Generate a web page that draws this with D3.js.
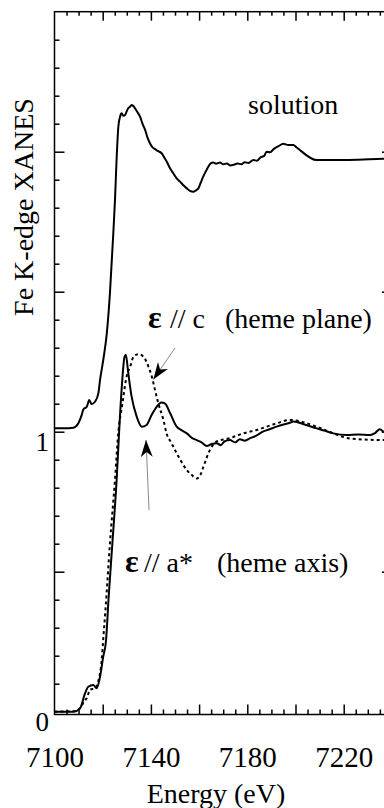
<!DOCTYPE html>
<html><head><meta charset="utf-8">
<script src="https://cdn.jsdelivr.net/npm/d3@7"></script>
<style>body{margin:0;background:#fff} svg{display:block}</style>
</head><body><svg id="c" width="384" height="808"></svg>
<script>
// ---------- data ----------
const solutionEnergy = [7100,7104,7107.8,7109.9,7111.3,7112.0,7113.4,7114.4,7115.4,7116.8,7118.2,7118.9,7120.3,7121.7,7123.0,7124.4,7125.1,7125.8,7126.5,7127.2,7127.9,7128.6,7129.3,7130.0,7130.6,7131.3,7132.0,7132.7,7133.4,7134.5,7135.5,7136.5,7137.6,7138.6,7139.6,7140.6,7141.7,7143,7144.5,7145.5,7146.6,7148,7149.3,7150.7,7152.1,7153.5,7154.9,7156.2,7157.6,7158.7,7159.7,7160.7,7161.7,7162.8,7163.8,7164.8,7165.9,7167,7168.7,7170,7171.5,7173,7174.2,7176,7177.5,7179,7180.5,7182.5,7184,7185.5,7187,7188,7189.5,7191,7193,7194.9,7197,7199.1,7200.5,7208.8,7215.7,7236.4,7240];
const solutionXanes = [1.012,1.012,1.014,1.03,1.06,1.08,1.089,1.113,1.099,1.107,1.137,1.185,1.26,1.351,1.494,1.709,1.828,1.98,2.09,2.125,2.137,2.128,2.131,2.145,2.155,2.16,2.167,2.163,2.155,2.14,2.125,2.10,2.078,2.05,2.03,2.016,2.009,2.002,1.994,1.98,1.964,1.94,1.923,1.905,1.893,1.88,1.869,1.86,1.857,1.862,1.869,1.89,1.911,1.93,1.946,1.958,1.961,1.957,1.961,1.955,1.958,1.951,1.953,1.958,1.955,1.962,1.96,1.97,1.968,1.98,1.985,2.0,1.998,2.01,2.02,2.028,2.024,2.024,2.015,1.97,1.97,1.975,1.976];

const axisEnergy = [7100,7108,7110.6,7112.7,7114.0,7116.1,7117.5,7118.9,7120.2,7121.4,7122.4,7124,7125.8,7127,7128,7129.0,7129.6,7130.6,7132.0,7134.1,7136.2,7138.2,7140.3,7142.4,7144.4,7145.9,7148.0,7150.7,7152.8,7154.9,7157,7159.0,7161,7163.2,7165,7167.3,7169,7170.5,7172.8,7175,7176.9,7179,7181,7183.5,7186.5,7189,7192.1,7195,7197.7,7199.1,7204,7208.8,7212,7215.7,7221.3,7226,7231,7233,7235.0,7236.7,7240];
const axisXanes = [0,0,0.012,0.066,0.089,0.095,0.084,0.125,0.196,0.256,0.40,0.60,0.83,1.03,1.17,1.265,1.275,1.21,1.125,1.054,1.018,1.024,1.06,1.089,1.104,1.10,1.066,1.018,1.005,0.994,0.978,0.970,0.962,0.949,0.955,0.959,0.952,0.965,0.970,0.962,0.973,0.968,0.976,0.985,1.0,1.008,1.018,1.026,1.032,1.036,1.025,1.012,1.004,0.994,0.988,0.99,0.988,0.995,1.009,1.0,1.0];

const planeEnergy = [7100,7108,7110.6,7112.5,7113.4,7114.7,7116.8,7118.2,7119.6,7120.2,7121.2,7123,7125.1,7126.5,7128,7130,7131.4,7132.8,7134.8,7136.9,7139,7140.4,7141.7,7143.1,7145.2,7146.5,7148.5,7150.7,7154.9,7157,7159,7160.5,7161.8,7164.5,7167.3,7172.8,7178.3,7183.9,7192.2,7197.7,7208.8,7215.7,7222.6,7236.7,7240];
const planeXanes = [0,0.002,0.012,0.04,0.048,0.078,0.084,0.11,0.185,0.256,0.37,0.60,0.828,1.0,1.09,1.20,1.232,1.268,1.277,1.268,1.232,1.196,1.149,1.101,1.042,0.994,0.96,0.923,0.863,0.845,0.833,0.845,0.875,0.935,0.965,0.977,0.994,1.006,1.030,1.042,1.018,0.994,0.976,0.970,0.970];

const xTickLabels = [7100,7140,7180,7220];
const yTickLabels = [0,1];
const xLabel = "Energy (eV)";
const yLabel = "Fe K-edge XANES";

// ---------- layout ----------
const svg = d3.select("#c");
const L = 54.5, R = 391.9, T = 11.7, B = 714.5;
const FONT = "'Liberation Serif', 'Times New Roman', serif";
const x = d3.scaleLinear().domain([7100, 7240]).range([L, R]);
const y = d3.scaleLinear().domain([-0.01, 2.5]).range([B, T]);

const xMinor = d3.range(7105, 7240, 5).filter(v => v % 20 !== 0);
const xMajor = d3.range(7120, 7240, 20);
const yMinor = d3.range(1, 25).map(i => i / 10).filter(v => Math.abs(v * 2 - Math.round(v * 2)) > 1e-6);
const yMajor = [0.5, 1, 1.5, 2];

function tickAxis(axisFn, scale, values, size, transform) {
  const g = svg.append("g").attr("transform", transform)
    .call(axisFn(scale).tickValues(values).tickSize(-size).tickFormat(""));
  g.select(".domain").remove();
  g.selectAll("line").attr("stroke", "#000").attr("stroke-width", 1.5);
}
tickAxis(d3.axisBottom, x, xMinor, 5, `translate(0,${B})`);
tickAxis(d3.axisBottom, x, xMajor, 10, `translate(0,${B})`);
tickAxis(d3.axisTop, x, xMinor, 4, `translate(0,${T})`);
tickAxis(d3.axisTop, x, xMajor, 9, `translate(0,${T})`);
tickAxis(d3.axisLeft, y, yMinor, 5, `translate(${L},0)`);
tickAxis(d3.axisLeft, y, yMajor, 10, `translate(${L},0)`);
tickAxis(d3.axisRight, y, yMinor, 5, `translate(${R},0)`);
tickAxis(d3.axisRight, y, yMajor, 10, `translate(${R},0)`);

// frame
svg.append("rect").attr("x", L).attr("y", T).attr("width", R - L).attr("height", B - T)
  .attr("fill", "none").attr("stroke", "#000").attr("stroke-width", 1.5);

// tick labels
const gx = svg.append("g").attr("transform", `translate(0,${B})`)
  .call(d3.axisBottom(x).tickValues(xTickLabels).tickSize(0).tickPadding(31.9).tickFormat(d3.format("d")));
gx.select(".domain").remove();
gx.selectAll("text").attr("font-family", FONT).attr("font-size", 29).attr("fill", "#000");

const gy = svg.append("g").attr("transform", `translate(${L},0)`)
  .call(d3.axisLeft(y).tickValues(yTickLabels).tickSize(0).tickPadding(5.5).tickFormat(d3.format("d")));
gy.select(".domain").remove();
gy.selectAll("text").attr("font-family", FONT).attr("font-size", 27).attr("fill", "#000").attr("dy", "0.7em");

// axis titles
svg.append("text").attr("x", 216).attr("y", 803).attr("text-anchor", "middle")
  .attr("font-family", FONT).attr("font-size", 28).text(xLabel);
svg.append("text").attr("transform", "translate(33,207) rotate(-90)").attr("text-anchor", "middle")
  .attr("font-family", FONT).attr("font-size", 28).text(yLabel);

// curves
const line = d3.line().x(d => x(d[0])).y(d => y(d[1])).curve(d3.curveMonotoneX);
const zip = (a, b) => a.map((v, i) => [v, b[i]]);
svg.append("path").attr("d", line(zip(planeEnergy, planeXanes)))
  .attr("fill", "none").attr("stroke", "#000").attr("stroke-width", 2).attr("stroke-dasharray", "3,3");
svg.append("path").attr("d", line(zip(axisEnergy, axisXanes)))
  .attr("fill", "none").attr("stroke", "#000").attr("stroke-width", 2);
svg.append("path").attr("d", line(zip(solutionEnergy, solutionXanes)))
  .attr("fill", "none").attr("stroke", "#000").attr("stroke-width", 2);

// annotations
svg.append("text").attr("x", 248).attr("y", 114).attr("font-family", FONT).attr("font-size", 28).text("solution");

function label(x0, yb, rest1, x1, rest2, x2) {
  svg.append("text").attr("x", x0).attr("y", yb).attr("font-family", FONT).attr("font-size", 32)
    .attr("font-weight", "bold").text("ε");
  svg.append("text").attr("x", x1).attr("y", yb).attr("font-family", FONT).attr("font-size", 28).text(rest1);
  svg.append("text").attr("x", x2).attr("y", yb).attr("font-family", FONT).attr("font-size", 28).text(rest2);
}
label(148, 328, "// c", 170, "(heme plane)", 225);
label(125, 572, "// a*", 144, "(heme axis)", 217);

// arrows
const defs = svg.append("defs");
defs.append("marker").attr("id", "ah").attr("markerUnits", "userSpaceOnUse")
  .attr("viewBox", "-18 -7 19 14").attr("refX", 0).attr("refY", 0)
  .attr("markerWidth", 19).attr("markerHeight", 14).attr("orient", "auto")
  .append("path").attr("d", "M0,0 L-17,-6 L-12,0 L-17,6 Z").attr("fill", "#000");
svg.append("line").attr("x1", 175).attr("y1", 348).attr("x2", 153.3).attr("y2", 379.5)
  .attr("stroke", "#888").attr("stroke-width", 1).attr("marker-end", "url(#ah)");
svg.append("line").attr("x1", 149).attr("y1", 510).attr("x2", 146).attr("y2", 440)
  .attr("stroke", "#888").attr("stroke-width", 1).attr("marker-end", "url(#ah)");
</script>
</body></html>
